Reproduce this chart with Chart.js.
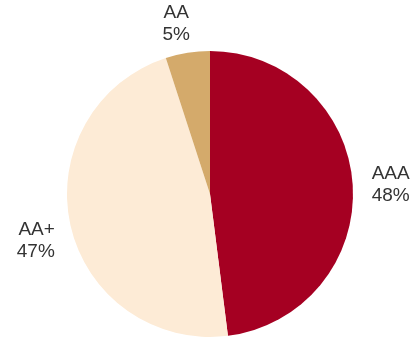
<html>
  <head>
    <script src="https://cdn.jsdelivr.net/npm/chart.js"></script>
    <style>
      body { margin: 0; background: #fff; }
      #wrap { width: 413px; height: 343px; }
    </style>
  </head>
  <body>
  <div id="wrap">
    <canvas id="myChart" width="413" height="343"></canvas>
  </div>
  <script>
const labels = ['AAA', 'AA+', 'AA'];
const values = [48, 47, 5];
const colors = ['#A50022', '#FDEBD6', '#D4AA6B'];

// draw "name / nn%" outside each slice
const outsideLabels = {
  id: 'outsideLabels',
  afterDraw(chart) {
    const ctx = chart.ctx;
    const arcs = chart.getDatasetMeta(0).data;
    const nudge = [[3, 2], [0, 14], [-9, 10]]; // small hand tweaks per label
    ctx.save();
    ctx.font = '19px "Liberation Sans", Arial, sans-serif';
    ctx.fillStyle = '#333333';
    arcs.forEach((arc, i) => {
      const mid = (arc.startAngle + arc.endAngle) / 2;
      const r = arc.outerRadius + 16;
      const x = arc.x + Math.cos(mid) * r + nudge[i][0];
      const y = arc.y + Math.sin(mid) * r + nudge[i][1];
      const lines = [labels[i], values[i] + '%'];
      const lh = 22;
      let top;
      if (Math.sin(mid) < -0.9) {
        ctx.textAlign = 'center';
        top = y - lines.length * lh;
      } else {
        ctx.textAlign = Math.cos(mid) > 0 ? 'left' : 'right';
        top = y - lines.length * lh / 2;
      }
      ctx.textBaseline = 'top';
      lines.forEach((t, k) => ctx.fillText(t, x, top + k * lh));
    });
    ctx.restore();
  }
};

new Chart(document.getElementById('myChart'), {
  type: 'pie',
  data: {
    labels: labels,
    datasets: [{
      data: values,
      backgroundColor: colors,
      borderWidth: 0
    }]
  },
  options: {
    responsive: false,
    animation: false,
    layout: { padding: { top: 51, bottom: 6, left: 67, right: 60 } },
    plugins: {
      legend: { display: false },
      tooltip: { enabled: false }
    }
  },
  plugins: [outsideLabels]
});
  </script>
  </body>
</html>
